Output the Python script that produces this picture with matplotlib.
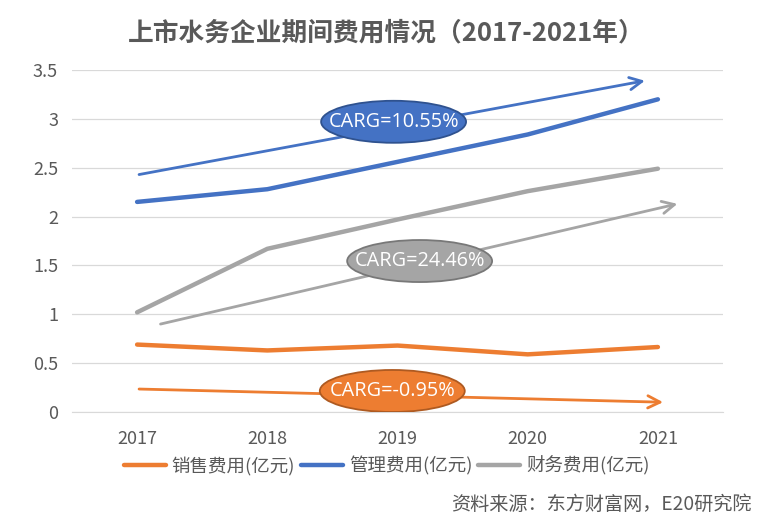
import numpy as np
import matplotlib
matplotlib.use('Agg')
import matplotlib.pyplot as plt
from matplotlib.patches import Ellipse

plt.rcParams['font.family'] = ['Noto Sans CJK SC', 'DejaVu Sans']

years = ['2017', '2018', '2019', '2020', '2021']
sales = [0.69, 0.63, 0.68, 0.59, 0.665]      # 销售费用
admin = [2.15, 2.28, 2.56, 2.84, 3.20]       # 管理费用
finance = [1.02, 1.67, 1.97, 2.26, 2.49]     # 财务费用

labels = ['销售费用(亿元)', '管理费用(亿元)', '财务费用(亿元)']
colors = ['#ED7D31', '#4472C4', '#A5A5A5']
edge_colors = ['#AE5A21', '#2F528F', '#787878']

# trend arrows: (x0, y0, x1, y1) in category / value units
trend_arrows = [
    (0.015, 0.235, 4.04, 0.10),
    (0.015, 2.43, 3.90, 3.39),
    (0.18, 0.90, 4.15, 2.13),
]
carg_texts = ['CARG=-0.95%', 'CARG=10.55%', 'CARG=24.46%']
carg_pos = [(1.96, 0.215), (1.97, 2.97), (2.17, 1.545)]

text_col = '#595959'

fig = plt.figure(figsize=(7.73, 5.20), dpi=100)
ax = fig.add_axes([72/773, 1-412/520, 651/773, 342/520])

x = np.arange(len(years))
for vals, c in zip([sales, admin, finance], colors):
    ax.plot(x, vals, color=c, lw=3.2, solid_capstyle='round', zorder=3)

for (x0, y0, x1, y1), c in zip(trend_arrows, colors):
    ax.annotate('', xy=(x1, y1), xytext=(x0, y0),
                arrowprops=dict(arrowstyle='->', color=c, lw=2.0,
                                mutation_scale=22, shrinkA=0, shrinkB=0),
                zorder=4, annotation_clip=False)

for (cx, cy), t, c, ec in zip(carg_pos, carg_texts, colors, edge_colors):
    e = Ellipse((cx, cy), width=145/130.25, height=42/97.7,
                facecolor=c, edgecolor=ec, lw=1.3, zorder=5)
    ax.add_patch(e)
    ax.text(cx, cy, t, color='white', fontsize=14.3, ha='center', va='center',
            family=['Open Sans', 'DejaVu Sans'], zorder=6)

ax.set_xlim(-0.5, 4.5)
ax.set_ylim(0, 3.5)
ax.set_xticks(x)
ax.set_xticklabels(years)
ax.set_yticks(np.arange(0, 3.51, 0.5))
ax.set_yticklabels(['0', '0.5', '1', '1.5', '2', '2.5', '3', '3.5'])
ax.tick_params(length=0, labelsize=13, colors=text_col)
ax.tick_params(axis='x', pad=13)
ax.tick_params(axis='y', pad=10)
ax.grid(axis='y', color='#D9D9D9', lw=0.9)
for s in ['top', 'right', 'left']:
    ax.spines[s].set_visible(False)
ax.spines['bottom'].set_color('#D9D9D9')
ax.set_axisbelow(True)

handles = [plt.Line2D([], [], color=c, lw=3.2, solid_capstyle='round') for c in colors]
fig.legend(handles, labels, loc='center', bbox_to_anchor=(0.5, 1-466/520), ncol=3,
           frameon=False, fontsize=13.3, labelcolor=text_col, handlelength=2.3,
           handletextpad=0.3, columnspacing=0.3)

fig.text(0.5, 1-33/520, '上市水务企业期间费用情况（2017-2021年）', ha='center', va='center',
         fontsize=18.5, fontweight='bold', color=text_col)
fig.text(752/773, 1-504/520, '资料来源：东方财富网，E20研究院', ha='right', va='center',
         fontsize=13.8, color=text_col)

fig.savefig('out.png', dpi=100)
